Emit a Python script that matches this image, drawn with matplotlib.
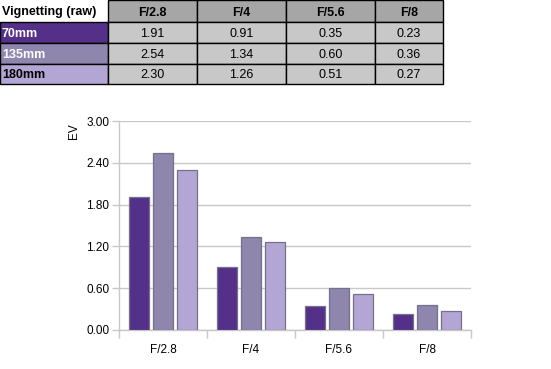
import numpy as np
import matplotlib
matplotlib.use("Agg")
import matplotlib.pyplot as plt
from matplotlib.patches import Rectangle

plt.rcParams["font.family"] = ["Liberation Sans", "DejaVu Sans"]

apertures = ["F/2.8", "F/4", "F/5.6", "F/8"]
lenses = ["70mm", "135mm", "180mm"]
ev_70 = [1.91, 0.91, 0.35, 0.23]
ev_135 = [2.54, 1.34, 0.60, 0.36]
ev_180 = [2.30, 1.26, 0.51, 0.27]
series = [ev_70, ev_135, ev_180]
colors = ["#553088", "#8e86ad", "#b3a6d4"]
yticks = [0.0, 0.6, 1.2, 1.8, 2.4, 3.0]

W, H = 551, 369
fig = plt.figure(figsize=(W / 100, H / 100), dpi=100)

# table drawn in pixel coordinates
tab = fig.add_axes([0, 0, 1, 1])
tab.set_xlim(0, W)
tab.set_ylim(H, 0)
tab.axis("off")

col_x = [0, 108, 197, 286, 375, 443]
row_y = [0, 22, 43, 64, 84]

def cell(x0, x1, y0, y1, face, text, ha="center", bold=False, color="black"):
    tab.add_patch(Rectangle((x0, y0), x1 - x0, y1 - y0, facecolor=face,
                            edgecolor="black", linewidth=1))
    tx = (x0 + x1) / 2 if ha == "center" else x0 + 2
    tab.text(tx, (y0 + y1) / 2 + 1.5, text, ha=ha, va="center", fontsize=9,
             fontweight="bold" if bold else "normal", color=color)

# header
tab.text(2, (row_y[0] + row_y[1]) / 2 + 1.5, "Vignetting (raw)", ha="left",
         va="center", fontsize=9, fontweight="bold")
for j, ap in enumerate(apertures):
    cell(col_x[j + 1], col_x[j + 2], row_y[0], row_y[1], "#a6a6a6", ap, bold=True)

for i, lens in enumerate(lenses):
    y0, y1 = row_y[i + 1], row_y[i + 2]
    txt_color = "white" if i < 2 else "black"
    cell(col_x[0], col_x[1], y0, y1, colors[i], lens, ha="left", bold=True,
         color=txt_color)
    for j, v in enumerate(series[i]):
        cell(col_x[j + 1], col_x[j + 2], y0, y1, "#c8c8c8", f"{v:.2f}")

# bar chart
ax = fig.add_axes([119 / W, (H - 330) / H, (471 - 119) / W, (330 - 121) / H])
x = np.arange(len(apertures))
width = 0.23
offsets = [-0.27, 0, 0.27]
for k in range(3):
    ax.bar(x + offsets[k], series[k], width, color=colors[k],
           edgecolor="#74718a", linewidth=0.9, zorder=3)

ax.set_xlim(-0.5, len(apertures) - 0.5)
ax.set_ylim(0, 3.0)
ax.set_yticks(yticks)
ax.set_yticklabels([f"{t:.2f}" for t in yticks], fontsize=8.5)
ax.set_xticks(x)
ax.set_xticklabels(apertures, fontsize=8.5)
ax.set_xticks(np.arange(len(apertures) + 1) - 0.5, minor=True)
ax.tick_params(axis="x", which="major", length=0, pad=10)
ax.tick_params(axis="x", which="minor", length=6, color="#c8c8c8", width=1)
ax.tick_params(axis="y", length=5, color="#c8c8c8", width=1, pad=2)
ax.grid(axis="y", color="#c8c8c8", linewidth=1, zorder=0)
for s in ["top", "right"]:
    ax.spines[s].set_visible(False)
ax.spines["left"].set_color("#c8c8c8")
ax.spines["bottom"].set_color("#c8c8c8")
ax.spines["left"].set_linewidth(1)
ax.spines["bottom"].set_linewidth(1)

fig.text(74 / W, 1 - 131 / H, "EV", rotation=90, ha="center", va="center",
         fontsize=8.5)

fig.savefig("out.png", dpi=100)
